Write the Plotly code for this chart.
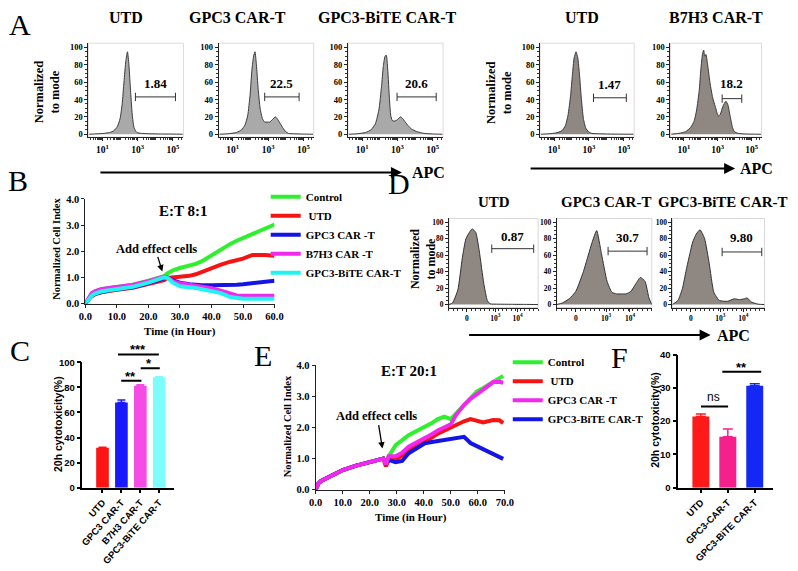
import plotly.graph_objects as go

W, H = 798, 571
SERIF = "Liberation Serif"
SANS = "Liberation Sans"

# ======================= DATA =======================
# Panel A: flow histograms (x = log10 APC intensity, y = % of mode)
a_titles = ["UTD", "GPC3 CAR-T", "GPC3-BiTE CAR-T", "UTD", "B7H3 CAR-T"]
a1_logx = [0.25, 0.7, 1.1, 1.4, 1.65, 1.85, 2.0, 2.12, 2.22, 2.33, 2.42, 2.5, 2.6, 2.7, 2.8, 2.95, 3.2, 3.7, 4.3, 5.0, 5.55]
a1_y = [0, 0.5, 1, 2, 4, 9, 18, 35, 60, 85, 95, 80, 48, 20, 7, 2, 1, 0.5, 0.3, 0.2, 0]
a2_logx = [0.25, 0.7, 1.2, 1.5, 1.7, 1.85, 1.98, 2.09, 2.18, 2.26, 2.34, 2.44, 2.55, 2.68, 2.81, 2.95, 3.1, 3.25, 3.42, 3.55, 3.7, 3.85, 4.0, 4.15, 4.5, 5.0, 5.55]
a2_y = [0, 0.5, 2, 5, 11, 22, 45, 75, 90, 95, 80, 52, 30, 18, 14, 14, 14, 17, 20, 17, 12, 7, 3, 1, 0.5, 0.2, 0]
a3_logx = [0.25, 0.7, 1.2, 1.5, 1.75, 1.95, 2.1, 2.2, 2.3, 2.37, 2.45, 2.55, 2.62, 2.7, 2.8, 2.95, 3.1, 3.2, 3.3, 3.45, 3.6, 3.8, 4.1, 4.5, 5.0, 5.55]
a3_y = [0, 0.5, 2, 5, 12, 28, 55, 78, 90, 91, 75, 40, 22, 16, 15, 16, 19, 20, 18, 14, 10, 6, 3, 1, 0.3, 0]
a4_logx = [0.25, 0.7, 1.1, 1.45, 1.65, 1.8, 1.95, 2.05, 2.15, 2.26, 2.36, 2.46, 2.56, 2.68, 2.82, 2.97, 3.15, 3.6, 4.3, 5.55]
a4_y = [0, 0.5, 1.5, 4, 10, 22, 45, 68, 88, 95, 88, 68, 42, 18, 7, 3, 1, 0.5, 0.2, 0]
a5_logx = [0.25, 0.7, 1.1, 1.4, 1.6, 1.75, 1.9, 2.0, 2.1, 2.17, 2.22, 2.3, 2.4, 2.55, 2.7, 2.85, 3.03, 3.15, 3.3, 3.48, 3.6, 3.72, 3.87, 3.98, 4.2, 4.6, 5.55]
a5_y = [0, 1, 3, 8, 15, 28, 50, 75, 93, 97, 90, 92, 80, 58, 42, 32, 21, 23, 32, 38, 34, 22, 8, 3, 1, 0.3, 0]
a_gate_lo = [2.87, 2.81, 2.98, 3.26, 3.26]
a_gate_hi = [5.14, 4.76, 5.2, 5.14, 4.42]
a_gate_y = [43, 43, 43, 42, 41]
a_gate_label = ["1.84", "22.5", "20.6", "1.47", "18.2"]
a_label_y = [58, 58, 58, 57, 58]
a_ticktext = ["10<sup>1</sup>", "10<sup>3</sup>", "10<sup>5</sup>"]
a_tickvals = [10, 1000, 100000]

# Panel D: flow histograms (x = display position on biexponential APC axis)
d_titles = ["UTD", "GPC3 CAR-T", "GPC3-BiTE CAR-T"]
d1_x = [0.0, 0.04, 0.1, 0.15, 0.19, 0.23, 0.26, 0.3, 0.34, 0.39, 0.43, 0.46, 0.55, 0.7, 0.85, 1.0]
d1_y = [0, 2, 18, 57, 80, 88, 92, 88, 65, 26, 5, 1, 0.5, 0.3, 0.2, 0]
d2_x = [0.0, 0.06, 0.13, 0.2, 0.28, 0.37, 0.42, 0.47, 0.53, 0.58, 0.63, 0.68, 0.73, 0.78, 0.83, 0.88, 0.93, 0.97, 1.0]
d2_y = [0, 2, 7, 16, 40, 75, 90, 62, 28, 15, 13, 13, 13, 16, 25, 33, 28, 8, 0]
d3_x = [0.0, 0.06, 0.11, 0.15, 0.19, 0.22, 0.26, 0.3, 0.35, 0.4, 0.45, 0.51, 0.6, 0.67, 0.73, 0.78, 0.81, 0.86, 0.93, 1.0]
d3_y = [0, 5, 20, 42, 62, 76, 86, 91, 80, 50, 15, 5, 4, 7, 6, 7, 8, 3, 0.5, 0]
d_gate_lo = [0.48, 0.54, 0.54]
d_gate_hi = [0.95, 0.95, 0.97]
d_gate_y = [68, 65, 64]
d_gate_label = ["0.87", "30.7", "9.80"]
d_label_y = [83, 82, 81]
d_tickvals = [0.2, 0.52, 0.77]
d_ticktext = ["0", "10<sup>3</sup>", "10<sup>4</sup>"]

# Panel B: real-time cell index, E:T 8:1
b_time = [0, 1, 2, 3, 5, 7.5, 10, 15, 20, 25, 26, 28, 30, 33, 35, 37, 40, 43, 46, 48, 50, 53, 55, 57, 60]
b_control = [0, 0.22, 0.38, 0.46, 0.55, 0.6, 0.64, 0.72, 0.88, 1.05, 1.15, 1.28, 1.36, 1.45, 1.52, 1.62, 1.85, 2.08, 2.28, 2.4, 2.5, 2.63, 2.75, 2.87, 3.02]
b_utd = [0, 0.18, 0.28, 0.35, 0.43, 0.49, 0.53, 0.6, 0.75, 0.9, 0.98, 1.0, 1.01, 1.06, 1.12, 1.22, 1.35, 1.49, 1.6, 1.66, 1.72, 1.86, 1.87, 1.86, 1.83]
b_gpc3 = [0, 0.18, 0.3, 0.38, 0.45, 0.5, 0.55, 0.62, 0.78, 0.98, 1.0, 0.88, 0.8, 0.74, 0.71, 0.7, 0.7, 0.7, 0.71, 0.72, 0.74, 0.77, 0.8, 0.83, 0.87]
b_b7h3 = [0, 0.24, 0.4, 0.47, 0.55, 0.6, 0.63, 0.71, 0.86, 1.03, 1.0, 0.84, 0.78, 0.72, 0.68, 0.64, 0.59, 0.49, 0.36, 0.31, 0.3, 0.3, 0.29, 0.29, 0.3]
b_bite = [0, 0.18, 0.3, 0.38, 0.46, 0.51, 0.56, 0.64, 0.8, 1.0, 0.98, 0.78, 0.66, 0.63, 0.6, 0.55, 0.49, 0.4, 0.25, 0.21, 0.19, 0.19, 0.19, 0.19, 0.19]
b_names = ["Control", "\u00a0UTD", "GPC3 CAR -T", "B7H3 CAR -T", "GPC3-BiTE CAR-T"]

# Panel E: real-time cell index, E:T 20:1
e_time = [0, 1, 2, 5, 7.5, 10, 15, 20, 23, 25, 26, 27, 29.6, 32, 34.4, 37, 40.4, 43, 45.2, 47.6, 50, 51.9, 54.9, 57.3, 59.7, 62, 65.7, 68, 69.4]
e_control = [0, 0.2, 0.28, 0.42, 0.53, 0.63, 0.77, 0.9, 0.95, 1.0, 0.85, 1.07, 1.43, 1.6, 1.75, 1.87, 2.01, 2.14, 2.27, 2.35, 2.27, 2.45, 2.74, 2.97, 3.16, 3.27, 3.45, 3.58, 3.66]
e_utd = [0, 0.2, 0.28, 0.42, 0.53, 0.63, 0.77, 0.9, 0.95, 1.0, 0.75, 0.95, 0.96, 1.1, 1.28, 1.4, 1.54, 1.68, 1.8, 1.9, 2.01, 2.08, 2.2, 2.27, 2.2, 2.16, 2.24, 2.23, 2.14]
e_gpc3 = [0, 0.2, 0.28, 0.42, 0.53, 0.63, 0.77, 0.9, 0.95, 1.0, 0.8, 1.07, 1.07, 1.19, 1.38, 1.5, 1.64, 1.78, 1.9, 2.0, 2.1, 2.4, 2.72, 2.92, 3.06, 3.22, 3.46, 3.47, 3.44]
e_bite = [0, 0.2, 0.28, 0.42, 0.53, 0.63, 0.77, 0.9, 0.95, 1.0, 0.85, 0.96, 0.88, 0.92, 1.17, 1.32, 1.49, 1.53, 1.56, 1.57, 1.61, 1.63, 1.7, 1.5, 1.4, 1.33, 1.17, 1.07, 0.99]
e_names = ["Control", "\u00a0UTD", "GPC3 CAR -T", "GPC3-BiTE CAR-T"]

# Panel C: 20 h cytotoxicity
c_cats = ["UTD", "GPC3 CAR-T", "B7H3 CAR-T", "GPC3-BiTE CAR-T"]
c_vals = [31.9, 68.0, 81.4, 88.2]
c_err = [0.3, 2.0, 0.8, 0.4]
c_sig_x0 = [0.74, 1.94, 0.91]
c_sig_x1 = [2.98, 3.03, 2.06]
c_sig_y = [106.3, 95.3, 85.4]
c_sig_text = ["***", "*", "**"]

# Panel F: 20 h cytotoxicity
f_cats = ["UTD", "GPC3-CAR-T", "GPC3-BiTE CAR-T"]
f_vals = [21.4, 15.3, 30.6]
f_err = [0.7, 2.3, 0.6]
f_sig_x0 = [-0.05, 0.74]
f_sig_x1 = [1.01, 2.24]
f_sig_y = [24.4, 34.8]
f_sig_text = ["ns", "**"]

# ======================= STYLE =======================
GREEN, RED, BLUE, MAGENTA, CYAN = "#2ef02e", "#f41414", "#1414e6", "#f228f0", "#22f2f2"
b_colors = [GREEN, RED, BLUE, MAGENTA, CYAN]
e_colors = [GREEN, RED, MAGENTA, BLUE]
c_colors = ["#ff1414", "#1a1aff", "#f54ce6", "#7dfcfc"]
f_colors = ["#ff1a1a", "#f5208c", "#1428f5"]
GRAY_FILL = "#a9a9a9"
BROWN_FILL = "#8e8782"


def sfont(size, bold=True, family=SERIF):
    d = dict(family=family, size=size, color="black")
    if bold:
        d["weight"] = "bold"
    return d


layout = dict(width=W, height=H, margin=dict(l=0, r=0, t=0, b=0),
              paper_bgcolor="white", plot_bgcolor="rgba(0,0,0,0)", barmode="overlay")
annotations = []
shapes = []
fig = go.Figure()


def sfx(n):
    return "" if n == 1 else str(n)


def set_axes(n, x0, x1, ytop, ybot, xopt, yopt):
    s = sfx(n)
    layout["xaxis" + s] = dict(domain=[x0 / W, x1 / W], anchor="y" + s, **xopt)
    layout["yaxis" + s] = dict(domain=[1 - ybot / H, 1 - ytop / H], anchor="x" + s, **yopt)


def paper_text(px, py, text, font, angle=0, xanchor="center", yanchor="middle"):
    annotations.append(dict(x=px / W, y=1 - py / H, xref="paper", yref="paper", text=text,
                            showarrow=False, font=font, textangle=angle,
                            xanchor=xanchor, yanchor=yanchor))


def paper_arrow(x0, x1, py):
    annotations.append(dict(x=x1 / W, y=1 - py / H, xref="paper", yref="paper", text="",
                            showarrow=True, ax=-(x1 - x0), ay=0, arrowhead=2, arrowsize=1.1,
                            arrowwidth=2, arrowcolor="black", standoff=0))


base_line = dict(showline=True, linecolor="#222", linewidth=1, ticks="outside",
                 tickcolor="#222", showgrid=False, zeroline=False)

# ---------------- Panel A ----------------
a_series = [(a1_logx, a1_y), (a2_logx, a2_y), (a3_logx, a3_y), (a4_logx, a4_y), (a5_logx, a5_y)]
a_boxes = [(83, 180), (216, 313), (348, 445), (544, 640), (677, 770)]
a_title_x = [121, 235, 388, 587, 723]
for i, ((lx, yy), (x0, x1)) in enumerate(zip(a_series, a_boxes)):
    n = i + 1
    s = sfx(n)
    set_axes(n, x0, x1, 38, 134,
             dict(type="log", range=[0.2, 5.59], tickvals=a_tickvals, ticktext=a_ticktext,
                  ticklen=3, tickfont=sfont(9.5),
                  minor=dict(ticks="outside", ticklen=2, tickcolor="#333", dtick="D1"), **base_line),
             dict(range=[-3.4, 104.9], tickvals=[0, 20, 40, 60, 80, 100], ticklen=3,
                  tickfont=sfont(8.5),
                  minor=dict(ticks="outside", ticklen=2, tickcolor="#333", dtick=5, tick0=0), **base_line))
    fill = GRAY_FILL if i < 3 else BROWN_FILL
    fig.add_trace(go.Scatter(x=[10 ** v for v in lx], y=yy, mode="lines", fill="tozeroy",
                             fillcolor=fill, line=dict(color="#3a3a3a", width=1, shape="spline", smoothing=0.5),
                             xaxis="x" + s, yaxis="y" + s, showlegend=False, hoverinfo="skip"))
    fig.add_trace(go.Scatter(x=[10 ** a_gate_lo[i], 10 ** a_gate_hi[i]], y=[a_gate_y[i]] * 2,
                             mode="lines+markers", line=dict(color="#333", width=1),
                             marker=dict(symbol="line-ns-open", size=6, line=dict(color="#333", width=1)),
                             xaxis="x" + s, yaxis="y" + s, showlegend=False, hoverinfo="skip"))
    annotations.append(dict(x=(a_gate_lo[i] + a_gate_hi[i]) / 2, y=a_label_y[i], xref="x" + s, yref="y" + s,
                            text=a_gate_label[i], showarrow=False, font=sfont(13)))
    shapes.append(dict(type="rect", xref="x" + s + " domain" if s else "x domain",
                       yref="y" + s + " domain" if s else "y domain", x0=0, x1=1, y0=0, y1=1,
                       line=dict(color="#e2d8d8", width=1), layer="below"))
    paper_text(a_title_x[i], 12, a_titles[i], sfont(16))

paper_text(41, 88, "Normalized<br>to mode", sfont(12.5), angle=-90)
paper_text(502, 88, "Normalized<br>to mode", sfont(12.5), angle=-90)
paper_arrow(100, 403, 170)
paper_text(430, 170, "APC", sfont(16))
paper_arrow(537, 743, 166)
paper_text(765, 166, "APC", sfont(16))

# ---------------- Panel D ----------------
d_series = [(d1_x, d1_y), (d2_x, d2_y), (d3_x, d3_y)]
d_boxes = [(451, 542), (561, 658), (679, 773)]
d_title_x = [497, 611, 731]
for i, ((xx, yy), (x0, x1)) in enumerate(zip(d_series, d_boxes)):
    n = 8 + i
    s = sfx(n)
    set_axes(n, x0, x1, 217, 308,
             dict(range=[0, 1], tickvals=d_tickvals, ticktext=d_ticktext, ticklen=3,
                  tickfont=sfont(7.5), minor=dict(ticks="outside", ticklen=2, tickcolor="#333", dtick=0.05),
                  **base_line),
             dict(range=[-3.6, 104.8], tickvals=[0, 20, 40, 60, 80, 100], ticklen=3, tickfont=sfont(7.5),
                  minor=dict(ticks="outside", ticklen=2, tickcolor="#333", dtick=5, tick0=0), **base_line))
    fig.add_trace(go.Scatter(x=xx, y=yy, mode="lines", fill="tozeroy", fillcolor=BROWN_FILL,
                             line=dict(color="#333", width=1, shape="spline", smoothing=0.5),
                             xaxis="x" + s, yaxis="y" + s, showlegend=False, hoverinfo="skip"))
    fig.add_trace(go.Scatter(x=[d_gate_lo[i], d_gate_hi[i]], y=[d_gate_y[i]] * 2,
                             mode="lines+markers", line=dict(color="#333", width=1),
                             marker=dict(symbol="line-ns-open", size=6, line=dict(color="#333", width=1)),
                             xaxis="x" + s, yaxis="y" + s, showlegend=False, hoverinfo="skip"))
    annotations.append(dict(x=(d_gate_lo[i] + d_gate_hi[i]) / 2, y=d_label_y[i], xref="x" + s, yref="y" + s,
                            text=d_gate_label[i], showarrow=False, font=sfont(13)))
    shapes.append(dict(type="rect", xref="x" + s + " domain", yref="y" + s + " domain", x0=0, x1=1, y0=0, y1=1,
                       line=dict(color="#d8d8d8", width=1), layer="below"))
    paper_text(d_title_x[i], 200, d_titles[i], sfont(15))

paper_text(424, 258, "Normalized<br>to mode", sfont(12), angle=-90)
paper_arrow(475, 718, 336)
paper_text(741, 337, "APC", sfont(16))

# ---------------- Panel B ----------------
line_axis_x = dict(dtick=10, tickformat=".1f", ticklen=3, tickfont=sfont(10.5), **base_line)
line_axis_y = dict(dtick=1, tickformat=".1f", ticklen=3, tickfont=sfont(10.5), **base_line)
set_axes(6, 80, 273, 197, 304, dict(range=[0, 60], **line_axis_x), dict(range=[0, 4], **line_axis_y))
for name, ys, col in zip(b_names, [b_control, b_utd, b_gpc3, b_b7h3, b_bite], b_colors):
    fig.add_trace(go.Scatter(x=b_time, y=ys, mode="lines", name=name, line=dict(color=col, width=4),
                             xaxis="x6", yaxis="y6", legend="legend"))
paper_text(51, 248, "Normalized Cell Index", sfont(10.5), angle=-90)
paper_text(177, 332, "Time (in Hour)", sfont(11))
paper_text(180, 209, "E:T 8:1", sfont(15))
paper_text(153, 248, "Add effect cells", sfont(12.5))
annotations.append(dict(x=24.4, y=1.23, xref="x6", yref="y6", text="", showarrow=True, ax=-5, ay=-16,
                        arrowhead=2, arrowsize=1, arrowwidth=1.3, arrowcolor="black", standoff=0))

# ---------------- Panel E ----------------
set_axes(11, 315, 508, 367, 494, dict(range=[0, 70], **line_axis_x), dict(range=[0, 4], **line_axis_y))
e_series = [e_control, e_utd, e_gpc3, e_bite]
draw_order = [0, 1, 3, 2]
for k in draw_order:
    fig.add_trace(go.Scatter(x=e_time, y=e_series[k], mode="lines", name=e_names[k],
                             line=dict(color=e_colors[k], width=4), legendrank=k + 1,
                             xaxis="x11", yaxis="y11", legend="legend2"))
paper_text(287, 429, "Normalized Cell Index", sfont(10.5), angle=-90)
paper_text(412, 522, "Time (in Hour)", sfont(11))
paper_text(410, 373, "E:T 20:1", sfont(15))
paper_text(377, 419, "Add effect cells", sfont(12.5))
annotations.append(dict(x=24.7, y=1.32, xref="x11", yref="y11", text="", showarrow=True, ax=-4, ay=-25,
                        arrowhead=2, arrowsize=1, arrowwidth=1.3, arrowcolor="black", standoff=0))

# ---------------- Panel C ----------------
bar_axis = dict(showline=True, linecolor="black", linewidth=1.5, ticks="outside", ticklen=4, tickwidth=1.5,
                tickcolor="black", showgrid=False, zeroline=False, tickfont=sfont(9.5, family=SANS))
C_TOP, C_BOT = 364, 492
set_axes(7, 77, 170, C_TOP, C_BOT,
         dict(type="category", categoryorder="array", categoryarray=c_cats, range=[-1.06, 3.76],
              tickangle=-48, **bar_axis),
         dict(range=[0, 100], dtick=20, **bar_axis))
# invisible companion y-axis with the same scale, taller, for significance brackets above 100
SIG_TOP = 335
layout["yaxis13"] = dict(domain=[1 - C_BOT / H, 1 - SIG_TOP / H], anchor="x7", visible=False,
                         range=[0, 100 * (C_BOT - SIG_TOP) / (C_BOT - C_TOP)], showgrid=False, zeroline=False)
for cat, v, e, col in zip(c_cats, c_vals, c_err, c_colors):
    fig.add_trace(go.Bar(x=[cat], y=[v], width=0.67, marker=dict(color=col, line=dict(width=0)),
                         error_y=dict(type="data", array=[e], arrayminus=[0], symmetric=False,
                                      color=col, thickness=1.5, width=4),
                         xaxis="x7", yaxis="y7", showlegend=False))
for x0, x1, y, t in zip(c_sig_x0, c_sig_x1, c_sig_y, c_sig_text):
    annotations.append(dict(x=x1, y=y, ax=x0, ay=y, xref="x7", yref="y13", axref="x7", ayref="y13",
                            text="", showarrow=True, arrowhead=0, arrowwidth=2, arrowcolor="black",
                            standoff=0, startstandoff=0))
    annotations.append(dict(x=(x0 + x1) / 2, y=y, xref="x7", yref="y13", text=t, showarrow=False,
                            yanchor="bottom", yshift=-5, font=sfont(13, family=SANS)))
paper_text(52, 427, "20h cytotoxicity(%)", sfont(10.5, family=SANS), angle=-90)

# ---------------- Panel F ----------------
set_axes(12, 685, 782, 356, 492,
         dict(type="category", categoryorder="array", categoryarray=f_cats, range=[-0.84, 2.69],
              tickangle=-45, **bar_axis),
         dict(range=[0, 40], dtick=10, **bar_axis))
for cat, v, e, col in zip(f_cats, f_vals, f_err, f_colors):
    fig.add_trace(go.Bar(x=[cat], y=[v], width=0.63, marker=dict(color=col, line=dict(width=0)),
                         error_y=dict(type="data", array=[e], arrayminus=[0], symmetric=False,
                                      color=col, thickness=1.5, width=5),
                         xaxis="x12", yaxis="y12", showlegend=False))
for x0, x1, y, t in zip(f_sig_x0, f_sig_x1, f_sig_y, f_sig_text):
    annotations.append(dict(x=x1, y=y, ax=x0, ay=y, xref="x12", yref="y12", axref="x12", ayref="y12",
                            text="", showarrow=True, arrowhead=0, arrowwidth=2, arrowcolor="black",
                            standoff=0, startstandoff=0))
    bold = t != "ns"
    annotations.append(dict(x=(x0 + x1) / 2, y=y, xref="x12", yref="y12", text=t, showarrow=False,
                            yanchor="bottom", yshift=-5 if bold else 0,
                            font=sfont(13 if bold else 12, bold=bold, family=SANS)))
paper_text(661, 423, "20h cytotoxicity(%)", sfont(10.5, family=SANS), angle=-90)

# ---------------- Panel letters ----------------
paper_text(13, 0, "A", sfont(30, bold=False), yanchor="top")
for letter, px, py in [("B", 11, 178), ("C", 13, 352), ("D", 400, 181), ("E", 261, 357), ("F", 625, 359)]:
    paper_text(px, py, letter, sfont(30, bold=False))

layout["legend"] = dict(x=264 / W, y=1 - 180 / H, xanchor="left", yanchor="top", font=sfont(11),
                        bgcolor="rgba(0,0,0,0)", itemwidth=30, tracegroupgap=0)
layout["legend2"] = dict(x=511 / W, y=1 - 349 / H, xanchor="left", yanchor="top", font=sfont(11),
                         bgcolor="rgba(0,0,0,0)", itemwidth=30, tracegroupgap=0)
layout["annotations"] = annotations
layout["shapes"] = shapes
layout["showlegend"] = True
fig.update_layout(**layout)
fig.write_html("out.html", config={"displayModeBar": False},
               post_script="document.body.style.margin='0px';document.body.style.overflow='hidden';")
